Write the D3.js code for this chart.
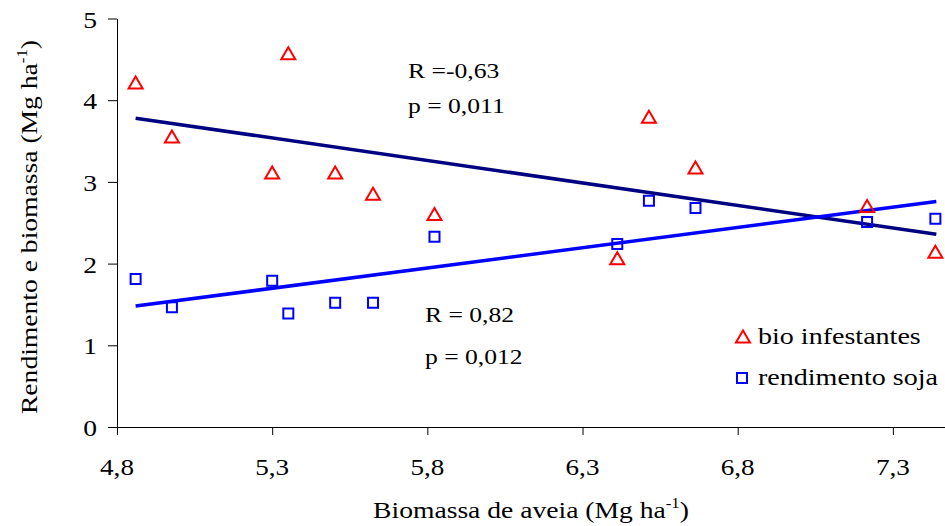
<!DOCTYPE html>
<html>
<head>
<meta charset="utf-8">
<script src="https://cdn.jsdelivr.net/npm/d3@7"></script>
<style>
  html, body { margin: 0; padding: 0; background: #fff; }
  svg { display: block; }
</style>
</head>
<body>
<div id="chart"></div>
<script>
// values
const biomassaAveia = [4.86, 4.977, 5.30, 5.352, 5.503, 5.625, 5.823, 6.412, 6.514, 6.664, 7.217, 7.437];
const bioInfestantes = [4.21, 3.55, 3.11, 4.57, 3.11, 2.85, 2.60, 2.06, 3.79, 3.17, 2.70, 2.14];
const rendimentoSoja = [1.81, 1.465, 1.79, 1.39, 1.52, 1.52, 2.33, 2.24, 2.77, 2.68, 2.51, 2.55];

// regression lines (end points)
const trendX = [4.86, 7.44];
const trendInfestantes = [3.78, 2.36];
const trendSoja = [1.48, 2.76];

const xTicks = [4.8, 5.3, 5.8, 6.3, 6.8, 7.3];
const yTicks = [0, 1, 2, 3, 4, 5];

const width = 945, height = 526;
const font = "'Liberation Serif', 'Times New Roman', serif";

const svg = d3.select("#chart").append("svg")
  .attr("width", width)
  .attr("height", height)
  .attr("font-family", font)
  .style("background", "#fff");

const x = d3.scaleLinear().domain([4.8, 7.468]).range([117, 945]);
const y = d3.scaleLinear().domain([0, 5]).range([427, 18.5]);

const comma = v => d3.format(".1f")(v).replace(".", ",");

// text helper: glyphs in the picture are wider than Times, so stretch them
function label(parent, px, py, str, size, stretch, anchor, rot) {
  const t = parent.append("text")
    .attr("transform", `translate(${px},${py})` + (rot ? ` rotate(${rot})` : "") + ` scale(${stretch},1)`)
    .attr("font-size", size)
    .attr("fill", "#000")
    .attr("text-anchor", anchor || "start");
  if (str !== null) t.text(str);
  return t;
}

// axes
const xAxis = svg.append("g")
  .attr("transform", `translate(0,${y(0)})`)
  .call(d3.axisBottom(x).tickValues(xTicks).tickSize(8).tickSizeOuter(0).tickFormat(""));
xAxis.select(".domain").attr("stroke", "#000");
xAxis.selectAll(".tick line").attr("stroke", "#000");

const yAxis = svg.append("g")
  .attr("transform", `translate(${x(4.8)},0)`)
  .call(d3.axisLeft(y).tickValues(yTicks).tickSize(9).tickSizeOuter(0).tickFormat(""));
yAxis.select(".domain").attr("stroke", "#000");
yAxis.selectAll(".tick line").attr("stroke", "#000");

xTicks.forEach(v => label(svg, x(v), 475, comma(v), 23, 1.18, "middle"));
yTicks.forEach(v => label(svg, 97, y(v) + 9, String(v), 23, 1.2, "end"));

// axis titles
const xt = label(svg, 531, 518, null, 23, 1.2, "middle");
xt.append("tspan").text("Biomassa de aveia (Mg ha");
xt.append("tspan").attr("font-size", 14).attr("dy", -10).text("-1");
xt.append("tspan").attr("dy", 10).text(")");

const yt = label(svg, 37, 227, null, 23, 1.2, "middle", -90);
yt.append("tspan").text("Rendimento e biomassa (Mg ha");
yt.append("tspan").attr("font-size", 14).attr("dy", -10).text("-1");
yt.append("tspan").attr("dy", 10).text(")");

// trend lines
const line = d3.line().x(d => x(d[0])).y(d => y(d[1]));
svg.append("path")
  .datum(d3.zip(trendX, trendInfestantes))
  .attr("d", line)
  .attr("fill", "none")
  .attr("stroke", "#000080")
  .attr("stroke-width", 3.5);
svg.append("path")
  .datum(d3.zip(trendX, trendSoja))
  .attr("d", line)
  .attr("fill", "none")
  .attr("stroke", "#0000ff")
  .attr("stroke-width", 3.5);

// markers
const tri = "M0,-6.5L7,5.5L-7,5.5Z";
const sq = "M-5,-5L5,-5L5,5L-5,5Z";

svg.append("g").selectAll("path")
  .data(d3.zip(biomassaAveia, bioInfestantes))
  .join("path")
  .attr("transform", d => `translate(${x(d[0])},${y(d[1])})`)
  .attr("d", tri)
  .attr("fill", "none")
  .attr("stroke", "#ff0000")
  .attr("stroke-width", 2);

svg.append("g").selectAll("path")
  .data(d3.zip(biomassaAveia, rendimentoSoja))
  .join("path")
  .attr("transform", d => `translate(${x(d[0])},${y(d[1])})`)
  .attr("d", sq)
  .attr("fill", "none")
  .attr("stroke", "#0000ff")
  .attr("stroke-width", 2);

// statistics
label(svg, 408, 78, "R =-0,63", 21, 1.22);
label(svg, 408, 113, "p = 0,011", 21, 1.22);
label(svg, 425, 322, "R = 0,82", 21, 1.22);
label(svg, 425, 364, "p = 0,012", 21, 1.22);

// legend
svg.append("path")
  .attr("transform", "translate(743,337)")
  .attr("d", tri)
  .attr("fill", "none")
  .attr("stroke", "#ff0000")
  .attr("stroke-width", 2);
label(svg, 758, 344, "bio infestantes", 23, 1.22);
svg.append("path")
  .attr("transform", "translate(742,378)")
  .attr("d", sq)
  .attr("fill", "none")
  .attr("stroke", "#0000ff")
  .attr("stroke-width", 2);
label(svg, 758, 385, "rendimento soja", 23, 1.22);
</script>
</body>
</html>
